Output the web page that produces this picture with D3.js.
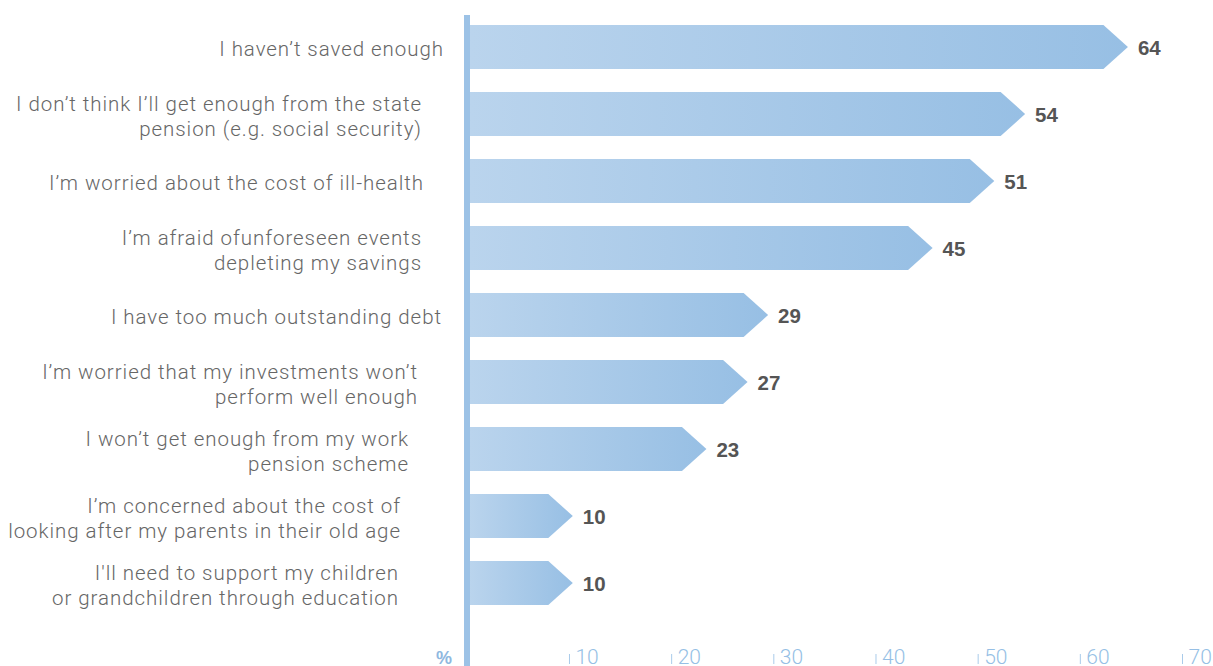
<!DOCTYPE html>
<html>
<head>
<meta charset="utf-8">
<script src="https://cdn.jsdelivr.net/npm/d3@7"></script>
<style>
  html, body { margin: 0; padding: 0; background: #fff; }
  svg { display: block; }
</style>
</head>
<body>
<svg id="chart" width="1213" height="666"></svg>
<script>
// Survey answers (line breaks mark where a label wraps)
const categories = [
  "I haven’t saved enough",
  "I don’t think I’ll get enough from the state\npension (e.g. social security)",
  "I’m worried about the cost of ill-health",
  "I’m afraid ofunforeseen events\ndepleting my savings",
  "I have too much outstanding debt",
  "I’m worried that my investments won’t\nperform well enough",
  "I won’t get enough from my work\npension scheme",
  "I’m concerned about the cost of\nlooking after my parents in their old age",
  "I'll need to support my children\nor grandchildren through education"
];
// Share of respondents, %
const values = [64, 54, 51, 45, 29, 27, 23, 10, 10];
const tickValues = [10, 20, 30, 40, 50, 60, 70];
const unitLabel = "%";

// ---- layout ----
const W = 1213, H = 666;
const axisX = 464, axisW = 6;
const arrowDepth = 24.5;
const labelRight = [444, 422, 424, 422, 442, 418, 409, 401, 399];
const lineGap = 25;
const labelFont = "Roboto, 'Liberation Sans', Arial, sans-serif";

const svg = d3.select("#chart");

const x = d3.scaleLinear().domain([0, 70]).range([470, 470 + 70 * 10.28]);
const tickScale = d3.scaleLinear().domain([0, 70]).range([466.8, 1182]);
const y = d3.scaleBand()
  .domain(categories)
  .range([13.5, 616.5])
  .paddingInner(0.343)
  .paddingOuter(0.1715);

// horizontal gradient shared by every bar
const defs = svg.append("defs");
const grad = defs.append("linearGradient")
  .attr("id", "barGrad")
  .attr("x1", 0).attr("x2", 1).attr("y1", 0).attr("y2", 0);
grad.append("stop").attr("offset", "0%").attr("stop-color", "#bad4ed");
grad.append("stop").attr("offset", "100%").attr("stop-color", "#97bfe4");

const rows = categories.map((c, i) => ({ cat: c, value: values[i], i }));

// arrow-shaped bars
svg.append("g").selectAll("path")
  .data(rows)
  .join("path")
  .attr("fill", "url(#barGrad)")
  .attr("d", d => {
    const x0 = x(0), x1 = x(d.value);
    const top = y(d.cat), h = y.bandwidth(), mid = top + h / 2;
    const body = x1 - arrowDepth;
    return `M${x0},${top}L${body},${top}L${x1},${mid}L${body},${top + h}L${x0},${top + h}Z`;
  });

// vertical baseline
svg.append("rect")
  .attr("x", axisX).attr("y", 15)
  .attr("width", axisW).attr("height", H - 15)
  .attr("fill", "#9cc2e6");

// value labels
svg.append("g").selectAll("text")
  .data(rows)
  .join("text")
  .attr("x", d => x(d.value) + 10)
  .attr("y", d => y(d.cat) + y.bandwidth() / 2 + 7.5)
  .attr("font-family", "'Liberation Sans', Arial, sans-serif")
  .attr("font-weight", "bold")
  .attr("font-size", 20.5)
  .attr("fill", "#555555")
  .text(d => d.value);

// category labels
const catG = svg.append("g");
rows.forEach(d => {
  const lines = d.cat.split("\n");
  const cy = y(d.cat) + y.bandwidth() / 2 + 2;
  const first = cy + 7 - (lines.length - 1) * lineGap / 2;
  const t = catG.append("text")
    .attr("text-anchor", "end")
    .attr("font-family", labelFont)
    .attr("font-weight", 300)
    .attr("font-size", 20.5)
    .attr("letter-spacing", 0.95)
    .attr("fill", "#666666");
  lines.forEach((ln, k) => {
    t.append("tspan")
      .attr("x", labelRight[d.i])
      .attr("y", first + k * lineGap)
      .text(ln);
  });
});

// bottom value axis
const axisG = svg.append("g")
  .attr("transform", `translate(0,${H - 2})`)
  .call(d3.axisTop(tickScale).tickValues(tickValues).tickSize(10).tickPadding(0));
axisG.select(".domain").remove();
axisG.selectAll(".tick line").attr("stroke", "#a9cbea").attr("stroke-width", 1);
axisG.selectAll(".tick text")
  .attr("x", 6).attr("y", 0).attr("dy", 0)
  .attr("text-anchor", "start")
  .attr("font-family", labelFont)
  .attr("font-weight", 300)
  .attr("font-size", 21)
  .attr("fill", "#96bfe5");

svg.append("text")
  .attr("x", 452).attr("y", H - 2)
  .attr("text-anchor", "end")
  .attr("font-family", "'Liberation Sans', Arial, sans-serif")
  .attr("font-weight", "bold")
  .attr("font-size", 18)
  .attr("fill", "#8fb8e0")
  .text(unitLabel);
</script>
</body>
</html>
